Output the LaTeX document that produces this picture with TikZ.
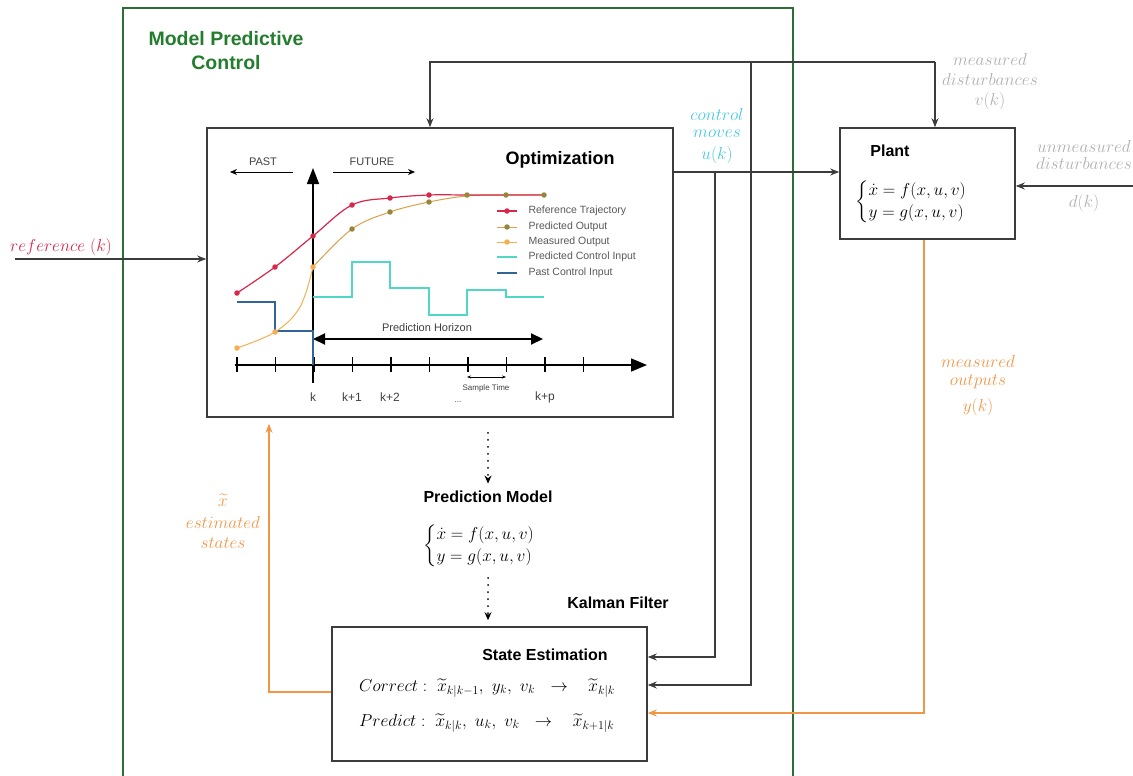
\documentclass[tikz,border=0pt]{standalone}
\usepackage{amsmath,amssymb}
\usepackage{fontspec}
\setsansfont{Liberation Sans}
\usetikzlibrary{positioning}
\usetikzlibrary{arrows.meta}
\definecolor{mpcgreen}{RGB}{45,110,55}
\definecolor{titlegreen}{RGB}{35,125,45}
\definecolor{refred}{RGB}{215,40,75}
\definecolor{predolive}{RGB}{150,135,60}
\definecolor{measorange}{RGB}{245,175,80}
\definecolor{ctrlcyan}{RGB}{80,215,200}
\definecolor{pastblue}{RGB}{50,100,150}
\definecolor{lblcyan}{RGB}{70,200,225}
\definecolor{lblorange}{RGB}{240,150,70}
\definecolor{lblgray}{RGB}{175,175,175}
\definecolor{linegray}{RGB}{60,60,60}
\tikzset{blk/.style = {draw=linegray, line width=1.6pt, fill=white, inner sep=0pt}}
\tikzset{conn/.style = {draw=linegray, line width=1.2pt, -{Stealth[length=9pt,width=7pt]}}}
\tikzset{dotconn/.style = {draw=black, line width=2pt, line cap=round,
                           dash pattern=on 0pt off 7pt, -{Stealth[length=8pt,width=7pt]}}}
\tikzset{hdr/.style = {font=\sffamily\bfseries\fontsize{18}{21}\selectfont}}
\tikzset{hdrsmall/.style = {font=\sffamily\bfseries\fontsize{16}{19}\selectfont}}
\tikzset{lbl/.style = {font=\fontsize{16}{20}\selectfont, align=center}}
\tikzset{mathtxt/.style = {font=\fontsize{17.5}{19}\selectfont, inner sep=1pt}}
\tikzset{charttxt/.style = {font=\sffamily\fontsize{11}{13}\selectfont, text=black!75}}
\tikzset{legtxt/.style = {font=\sffamily\fontsize{10.5}{12}\selectfont, text=black!65, anchor=west}}
\tikzset{mk/.style = {circle, fill, inner sep=0pt, minimum size=5.5pt}}

\begin{document}
\begin{tikzpicture}[x=1pt,y=-1pt]
  \useasboundingbox (0,0) rectangle (1133,776);
  % MPC frame
  \draw[mpcgreen, line width=2.2pt] (123,780) |- (793,8) -- (793,780);
  \node[font=\sffamily\bfseries\fontsize{19.5}{24}\selectfont, text=titlegreen, align=center]
    (mpctitle) at (226,51) {Model Predictive\\Control};

  % blocks
  \node[blk, minimum width=466, minimum height=289] (opt) at (440,272.5) {};
  \node[blk, minimum width=175, minimum height=111] (plant) at (927.5,183.5) {};
  \node[blk, minimum width=315, minimum height=134] (se) at (489.5,694) {};

  \node[hdr] (opttitle) at (560,160) {Optimization};
  \node[hdrsmall] (planttitle) at (890,151) {Plant};
  \node[mathtxt] (planteq) at (920,202)
    {$\begin{cases}\dot{x}=f(x,u,v)\\ y=g(x,u,v)\end{cases}$};
  \node[hdrsmall] (pmtitle) at (488,497) {Prediction Model};
  \node[mathtxt] (pmeq) at (488,546)
    {$\begin{cases}\dot{x}=f(x,u,v)\\ y=g(x,u,v)\end{cases}$};
  \node[hdrsmall] (kftitle) at (618,603) {Kalman Filter};
  \node[hdrsmall] (setitle) at (545,655) {State Estimation};
  \node[mathtxt, anchor=west] (correct) at (358,688)
    {$Correct :\ \widetilde{x}_{k|k-1},\ y_k,\ v_k\ \ \rightarrow\ \ \ \widetilde{x}_{k|k}$};
  \node[mathtxt, anchor=west] (predict) at (358,723)
    {$Predict :\ \widetilde{x}_{k|k},\ u_k,\ v_k\ \ \rightarrow\ \ \ \widetilde{x}_{k+1|k}$};

  % signal labels
  \node[lbl, text=refred] (reflbl) at (61,247) {$reference\ (k)$};
  \node[lbl, text=lblcyan] (ctrllbl) at (717,136) {$control$\\[-3pt]$moves$\\[2pt]$u(k)$};
  \node[lbl, text=lblgray] (mdlbl) at (990,82) {$measured$\\$disturbances$\\$v(k)$};
  \node[lbl, text=lblgray] (udlbl) at (1084,176) {$unmeasured$\\[-3pt]$disturbances$\\[18pt]$d(k)$};
  \node[lbl, text=lblorange] (ylbl) at (978,386) {$measured$\\[-2pt]$outputs$\\[6pt]$y(k)$};
  \node[lbl, text=lblorange] (xlbl) at (223,521) {$\widetilde{x}$\\[2pt]$estimated$\\$states$};

  % connectors
  \coordinate (refin) at (15,259);
  \draw[conn] (refin) -- (refin -| opt.west);
  \coordinate (vkin) at (935,62);
  \draw[conn] (vkin) -| ([xshift=-10]opt.north);
  \draw[conn] (vkin) -- (vkin |- plant.north);
  \coordinate (ukout) at ([yshift=100.5]opt.east);
  \draw[conn] (ukout) -- (ukout -| plant.west);
  \coordinate (uktap) at (715,172);
  \draw[conn] (uktap) |- ([yshift=37]se.east);
  \coordinate (vktap) at (751,62);
  \draw[conn] (vktap) |- ([yshift=9]se.east);
  \coordinate (dkin) at (1133,186);
  \draw[conn] (dkin) -- (dkin -| plant.east);
  \draw[conn, draw=lblorange] ([xshift=-3.5]plant.south) |- ([yshift=-19]se.east);
  \draw[conn, draw=lblorange, shorten >=6pt] ([yshift=2]se.west) -| ([xshift=-171]opt.south);
  \draw[dotconn] ([xshift=48,yshift=-15]opt.south) -- ([yshift=4]pmtitle.north);
  \draw[dotconn] ([yshift=-8]pmeq.south) -- ([yshift=6]pmeq.south |- se.north);

  % chart: axes and ticks
  \draw[line width=1.6pt, -{Triangle[length=16pt,width=12pt]}] (313,383) -- (313,168);
  \draw[line width=1.6pt, -{Triangle[length=16pt,width=13pt]}] (235,365) -- (647,365);
  \foreach \i in {0,...,9}
    \draw[line width=1.2pt] ({237+38.5*\i},357) -- ({237+38.5*\i},372);
  \foreach \x/\t in {313/k, 352/k+1, 390/k+2, 545/k+p}
    \node[charttxt, font=\sffamily\fontsize{12}{14}\selectfont] at (\x,397) {\t};
  \node[charttxt, font=\sffamily\fontsize{8}{9}\selectfont] at (458,402) {...};

  \node[charttxt] (past) at (263,162) {PAST};
  \draw[line width=1pt, -{Stealth[length=7pt,width=6pt]}] (293,172) -- (230,172);
  \node[charttxt] (future) at (372,162) {FUTURE};
  \draw[line width=1pt, -{Stealth[length=7pt,width=6pt]}] (333,172) -- (415,172);

  % horizon and sample time
  \draw[line width=2pt, {Triangle[length=12pt,width=11pt]}-{Triangle[length=12pt,width=11pt]}]
    (313,339) -- (543,339);
  \node[charttxt] (horizon) at (427,328) {Prediction Horizon};
  \draw[line width=0.7pt, {Stealth[length=4pt]}-{Stealth[length=4pt]}] (467,377) -- (506,377);
  \node[charttxt, font=\sffamily\fontsize{8}{9}\selectfont] (stime) at (486,388) {Sample Time};

  % control inputs
  \draw[pastblue, line width=1.4pt] (237,302) -| (275,331) -| (313,365);
  \draw[ctrlcyan, line width=1.6pt] (313,297) -| (352,262) -| (390,288) -| (429,315)
    -| (467,290) -| (506,297) -- (544,297);

  % outputs
  \draw[measorange, line width=1pt] plot[smooth, tension=0.6]
    coordinates {(237,348) (275,332) (300,307) (313,267)};
  \draw[measorange!70!predolive, line width=1pt] plot[smooth, tension=0.6]
    coordinates {(313,267) (352,229) (390,212) (429,202) (467,196) (506,195) (544,195)};
  \draw[refred, line width=1.2pt] plot[smooth, tension=0.6]
    coordinates {(237,293) (275,267) (313,236) (352,205) (390,198) (429,195) (467,195) (506,195) (544,195)};
  \foreach \p in {(237,293),(275,267),(313,236),(352,205),(390,198),(429,195)}
    \node[mk, refred] at \p {};
  \foreach \p in {(352,229),(390,212),(429,202),(467,195),(506,195),(544,195)}
    \node[mk, predolive] at \p {};
  \foreach \p in {(237,348),(275,332),(313,267)}
    \node[mk, measorange] at \p {};

  % legend
  \draw[refred, line width=1.2pt] (497,211) -- (517,211);
  \node[mk, refred] at (507,211) {};
  \node[legtxt] at (525,211) {Reference Trajectory};
  \draw[measorange!70!predolive, line width=1pt] (497,227) -- (517,227);
  \node[mk, predolive] at (507,227) {};
  \node[legtxt] at (525,227) {Predicted Output};
  \draw[measorange, line width=1pt] (497,242) -- (517,242);
  \node[mk, measorange] at (507,242) {};
  \node[legtxt] at (525,242) {Measured Output};
  \draw[ctrlcyan, line width=1.4pt] (497,257) -- (517,257);
  \node[legtxt] at (525,257) {Predicted Control Input};
  \draw[pastblue, line width=1.4pt] (497,273) -- (517,273);
  \node[legtxt] at (525,273) {Past Control Input};
\end{tikzpicture}
\end{document}
